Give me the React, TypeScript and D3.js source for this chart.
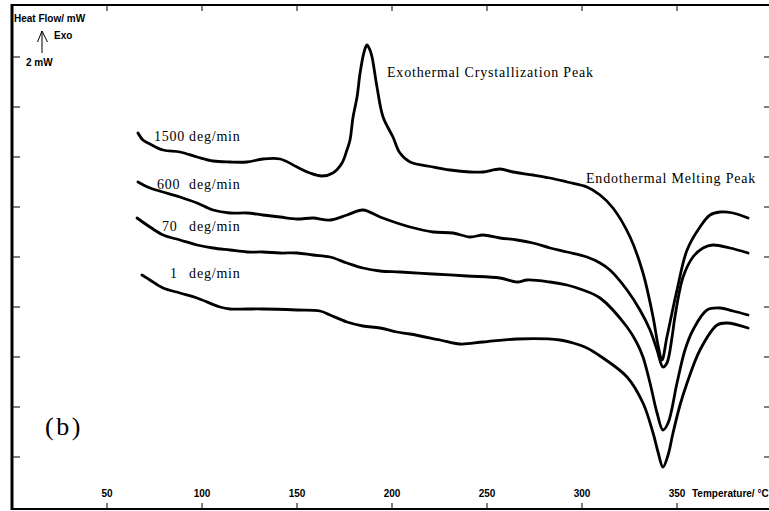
import React from "react";
import * as d3 from "d3";

// DSC traces: [temperature °C, heat flow mW] for each heating rate
const rate1500: [number, number][] = [
  [66.3, 12.96], [68.9, 12.68], [72.6, 12.52], [79.5, 12.28], [88.4, 12.2], [97.4, 12.0],
  [105.8, 11.84], [114.7, 11.8], [123.7, 11.8], [132.1, 11.92], [141.1, 11.92], [150, 11.6],
  [156.8, 11.36], [163.2, 11.24], [168.9, 11.36], [173.7, 11.76], [176.3, 12.28], [177.9, 12.68],
  [179.5, 13.6], [181.6, 14.4], [183.2, 15.36], [185.3, 16.2], [186.8, 16.48], [188.4, 16.28],
  [189.5, 16.0], [192.1, 14.8], [195.3, 13.6], [200.5, 12.8], [204.2, 12.16], [209.5, 11.8],
  [221.6, 11.6], [230.5, 11.48], [241.1, 11.4], [247.9, 11.4], [256.8, 11.52], [263.7, 11.4],
  [274.2, 11.28], [283.2, 11.16], [292.1, 11.0], [302.6, 10.8], [309.5, 10.48], [316.3, 9.96],
  [325.3, 8.8], [332.1, 7.36], [337.4, 5.6], [340, 4.48], [342.1, 3.88], [344.7, 4.8],
  [350, 6.68], [355.3, 8.28], [362.1, 9.2], [367.4, 9.68], [372.6, 9.8], [379.5, 9.76], [387.4, 9.56],
];

const rate600: [number, number][] = [
  [66.3, 11.0], [72.6, 10.76], [79.5, 10.6], [88.4, 10.4], [97.4, 10.16], [105.8, 9.88],
  [114.7, 9.76], [123.7, 9.76], [132.1, 9.68], [141.1, 9.6], [150, 9.52], [158.4, 9.56],
  [167.4, 9.48], [176.3, 9.68], [184.7, 9.88], [193.7, 9.6], [202.6, 9.36], [209.5, 9.2],
  [221.6, 9.0], [232.1, 8.96], [241.1, 8.8], [247.9, 8.88], [256.8, 8.76], [265.8, 8.68],
  [274.2, 8.56], [283.2, 8.36], [292.1, 8.2], [302.6, 8.0], [309.5, 7.76], [314.7, 7.48],
  [323.7, 6.68], [330.5, 5.88], [335.8, 5.08], [339.5, 4.28], [342.6, 3.6], [344.7, 3.76],
  [347.4, 4.8], [348.9, 5.6], [353.2, 7.2], [358.4, 8.0], [363.7, 8.36], [368.9, 8.48],
  [377.9, 8.36], [387.4, 8.16],
];

const rate70: [number, number][] = [
  [65.8, 9.56], [72.6, 9.2], [79.5, 8.88], [88.4, 8.68], [97.4, 8.48], [105.8, 8.36],
  [114.7, 8.28], [123.7, 8.2], [132.1, 8.2], [141.1, 8.16], [150, 8.16], [158.4, 8.08],
  [167.4, 8.0], [176.3, 7.76], [184.7, 7.56], [193.7, 7.44], [204.2, 7.4], [221.6, 7.32],
  [239.5, 7.24], [256.8, 7.16], [265.8, 7.0], [271.1, 7.08], [283.2, 7.0], [292.1, 6.88],
  [300.5, 6.68], [309.5, 6.36], [323.7, 5.2], [328.9, 4.56], [332.1, 4.0], [335.8, 2.96],
  [339.5, 1.76], [342.6, 1.08], [345.3, 1.36], [350, 2.96], [354.2, 4.28], [358.4, 5.08],
  [365.8, 5.88], [372.6, 5.96], [379.5, 5.84], [387.4, 5.68],
];

const rate1: [number, number][] = [
  [68.4, 7.28], [72.6, 7.08], [79.5, 6.76], [88.4, 6.56], [97.4, 6.36], [109.5, 6.0],
  [114.7, 5.92], [123.7, 5.92], [132.1, 5.92], [150, 5.88], [162.1, 5.84], [167.4, 5.68],
  [176.3, 5.4], [184.7, 5.24], [193.7, 5.16], [202.6, 5.0], [209.5, 4.92], [225.3, 4.68],
  [235.8, 4.52], [247.9, 4.6], [265.8, 4.72], [288.4, 4.68], [295.3, 4.56], [302.6, 4.36],
  [309.5, 4.04], [323.7, 3.2], [332.1, 2.16], [337.4, 0.96], [340, 0.2], [342.6, -0.4],
  [345.3, 0.08], [347.9, 0.96], [351.6, 2.08], [355.3, 2.96], [362.1, 4.28], [371.1, 5.28],
  [376.3, 5.36], [387.4, 5.16],
];

const series = [rate1500, rate600, rate70, rate1];

// Rate labels: number and unit
const rateNumbers = ["1500", "600", "70", "1"];
const rateUnit = "deg/min";

const xTicks = [50, 100, 150, 200, 250, 300, 350];
const yTicks = [0, 2, 4, 6, 8, 10, 12, 14, 16];

const W = 769;
const H = 511;

export default function App() {
  const x = d3.scaleLinear().domain([0, 400]).range([12, 772]);
  const y = d3.scaleLinear().domain([-2.08, 18.08]).range([509, 5]);

  const line = d3
    .line<[number, number]>()
    .x((d) => x(d[0]))
    .y((d) => y(d[1]))
    .curve(d3.curveCatmullRom.alpha(0.5));

  const sans = "'Liberation Sans', Arial, sans-serif";
  const serif = "'Liberation Serif', 'Times New Roman', serif";

  // label anchor positions in data space (temperature, mW)
  const labelSpots: [number, number][] = [
    [74.7, 12.64],
    [76.3, 10.72],
    [78.9, 9.04],
    [83.2, 7.16],
  ];
  const unitT = 93.2;

  return (
    <svg
      width={W}
      height={H}
      style={{ position: "fixed", left: 0, top: 0, background: "#fff" }}
    >
      <rect x={0} y={0} width={W} height={H} fill="#fff" />

      {/* frame */}
      <line x1={12} y1={5} x2={W + 5} y2={5} stroke="#000" strokeWidth={2} />
      <line x1={12} y1={509} x2={W + 5} y2={509} stroke="#000" strokeWidth={2.2} />
      <line x1={12} y1={4} x2={12} y2={510} stroke="#000" strokeWidth={3} />

      {/* x ticks (bottom and top) */}
      {xTicks.map((t) => (
        <g key={`xt${t}`}>
          <line x1={x(t)} x2={x(t)} y1={509} y2={503} stroke="#000" strokeWidth={1} />
          <line x1={x(t)} x2={x(t)} y1={5} y2={11} stroke="#000" strokeWidth={1} />
          <text
            x={x(t)}
            y={497}
            textAnchor="middle"
            fontFamily={sans}
            fontWeight="bold"
            fontSize={10}
          >
            {t}
          </text>
        </g>
      ))}

      {/* y ticks (left and right) */}
      {yTicks.map((t) => (
        <g key={`yt${t}`}>
          <line x1={12} x2={20} y1={y(t)} y2={y(t)} stroke="#000" strokeWidth={1} />
          <line x1={764} x2={772} y1={y(t)} y2={y(t)} stroke="#000" strokeWidth={1} />
        </g>
      ))}

      {/* axis titles */}
      <text x={14} y={22} fontFamily={sans} fontWeight="bold" fontSize={10}>
        Heat Flow/ mW
      </text>
      <text x={54} y={39} fontFamily={sans} fontWeight="bold" fontSize={10}>
        Exo
      </text>
      <path d="M42,53 L42,31 M37.5,42 L42,31 L47.5,42" fill="none" stroke="#000" strokeWidth={1} />
      <text x={26} y={66} fontFamily={sans} fontWeight="bold" fontSize={10}>
        2 mW
      </text>
      <text x={692} y={497} fontFamily={sans} fontWeight="bold" fontSize={10}>
        Temperature/ °C
      </text>

      {/* traces */}
      {series.map((s, i) => (
        <path
          key={`s${i}`}
          d={line(s) ?? ""}
          fill="none"
          stroke="#000"
          strokeWidth={2.8}
          strokeLinejoin="round"
          strokeLinecap="round"
        />
      ))}

      {/* rate labels */}
      {rateNumbers.map((n, i) => (
        <g key={`lab${i}`} fontFamily={serif} fontSize={14} letterSpacing={0.8}>
          <text x={x(labelSpots[i][0])} y={y(labelSpots[i][1])}>
            {n}
          </text>
          <text x={x(unitT)} y={y(labelSpots[i][1])}>
            {rateUnit}
          </text>
        </g>
      ))}

      {/* annotations */}
      <text x={387} y={77} fontFamily={serif} fontSize={14} letterSpacing={0.8}>
        Exothermal Crystallization Peak
      </text>
      <text x={586} y={183} fontFamily={serif} fontSize={14} letterSpacing={0.8}>
        Endothermal Melting Peak
      </text>
      <text x={45} y={435} fontFamily={serif} fontSize={26} letterSpacing={2.5}>
        (b)
      </text>
    </svg>
  );
}
